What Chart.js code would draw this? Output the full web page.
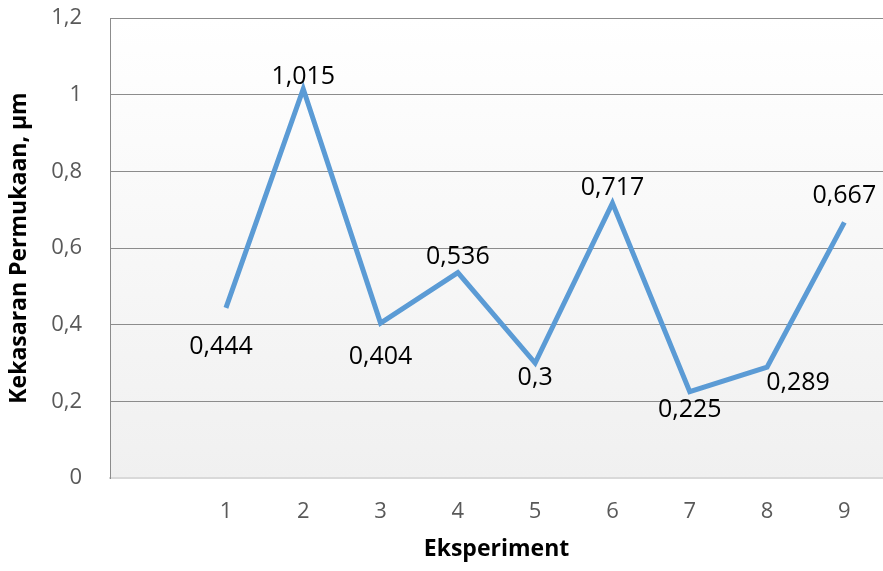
<!DOCTYPE html>
<html>
<head>
<meta charset="utf-8">
<script src="https://cdn.jsdelivr.net/npm/chart.js@4/dist/chart.umd.min.js"></script>
<style>
html,body{margin:0;padding:0;background:#fff;}
#wrap{width:883px;height:571px;position:relative;}
</style>
</head>
<body>
<div id="wrap"><canvas id="c" width="883" height="571"></canvas></div>
<script>
const categories = ['', '1', '2', '3', '4', '5', '6', '7', '8', '9'];
const values = [null, 0.444, 1.015, 0.404, 0.536, 0.3, 0.717, 0.225, 0.289, 0.667];
const yTicks = [0, 0.2, 0.4, 0.6, 0.8, 1, 1.2];
const xTitle = 'Eksperiment';
const yTitle = 'Kekasaran Permukaan, \u03BCm';

// label placement styles (dx, dy relative to point, in px)
const labelStyle = [null, [-5, 39], [0, -12], [0, 34], [0, -16], [0, 15], [0, -15], [0, 18], [31, 16], [0, -26]];

const fmt = v => String(Math.round(v * 1000) / 1000).replace('.', ',');
const FONT = '"Open Sans", sans-serif';

const bgPlugin = {
  id: 'bg',
  beforeDraw(chart) {
    const {ctx, chartArea: a} = chart;
    const g = ctx.createLinearGradient(0, a.top, 0, a.bottom);
    g.addColorStop(0, '#ffffff');
    g.addColorStop(1, '#f0f0f0');
    ctx.save();
    ctx.fillStyle = g;
    ctx.fillRect(a.left, a.top, a.right - a.left, a.bottom - a.top);
    ctx.restore();
  }
};

const labelPlugin = {
  id: 'vlabels',
  afterDatasetsDraw(chart) {
    const {ctx} = chart;
    const meta = chart.getDatasetMeta(0);
    ctx.save();
    ctx.font = '25px ' + FONT;
    ctx.fillStyle = '#000';
    ctx.textAlign = 'center';
    ctx.textBaseline = 'middle';
    meta.data.forEach((pt, i) => {
      const v = values[i];
      if (v === null) return;
      const s = labelStyle[i];
      ctx.fillText(fmt(v), pt.x + s[0], pt.y + s[1]);
    });
    ctx.restore();
  }
};

new Chart(document.getElementById('c'), {
  type: 'line',
  data: {
    labels: categories,
    datasets: [{
      data: values,
      borderColor: '#5B9BD5',
      borderWidth: 5,
      pointRadius: 0,
      tension: 0,
      fill: false,
      spanGaps: false
    }]
  },
  options: {
    responsive: false,
    animation: false,
    layout: {padding: {left: 6, right: 0, top: 18, bottom: 8}},
    plugins: {legend: {display: false}, tooltip: {enabled: false}},
    scales: {
      x: {
        type: 'category',
        offset: true,
        grid: {display: false, drawTicks: false},
        border: {display: true, color: '#d9d9d9', width: 2},
        ticks: {color: '#595959', font: {size: 22, family: FONT}, padding: 21, maxRotation: 0},
        title: {display: true, text: xTitle, color: '#000', font: {size: 23, weight: 'bold', family: FONT}, padding: {top: 4, bottom: 0}},
        afterFit(s) { s.height = 85; s.paddingTop = 0; s.paddingBottom = 0; }
      },
      y: {
        min: 0, max: 1.2,
        afterBuildTicks(s) { s.ticks = yTicks.map(v => ({value: v})); },
        grid: {color: '#8c8c8c', lineWidth: 1, drawTicks: false},
        border: {display: true, color: '#8c8c8c', width: 1},
        ticks: {color: '#595959', font: {size: 22, family: FONT}, padding: 28, callback: v => fmt(v)},
        title: {display: true, text: yTitle, color: '#000', font: {size: 23, weight: 'bold', family: FONT}, padding: {top: 0, bottom: 0}},
        afterFit(s) { s.width = 104; s.paddingTop = 0; s.paddingBottom = 0; }
      }
    }
  },
  plugins: [bgPlugin, labelPlugin]
});
</script>
</body>
</html>
